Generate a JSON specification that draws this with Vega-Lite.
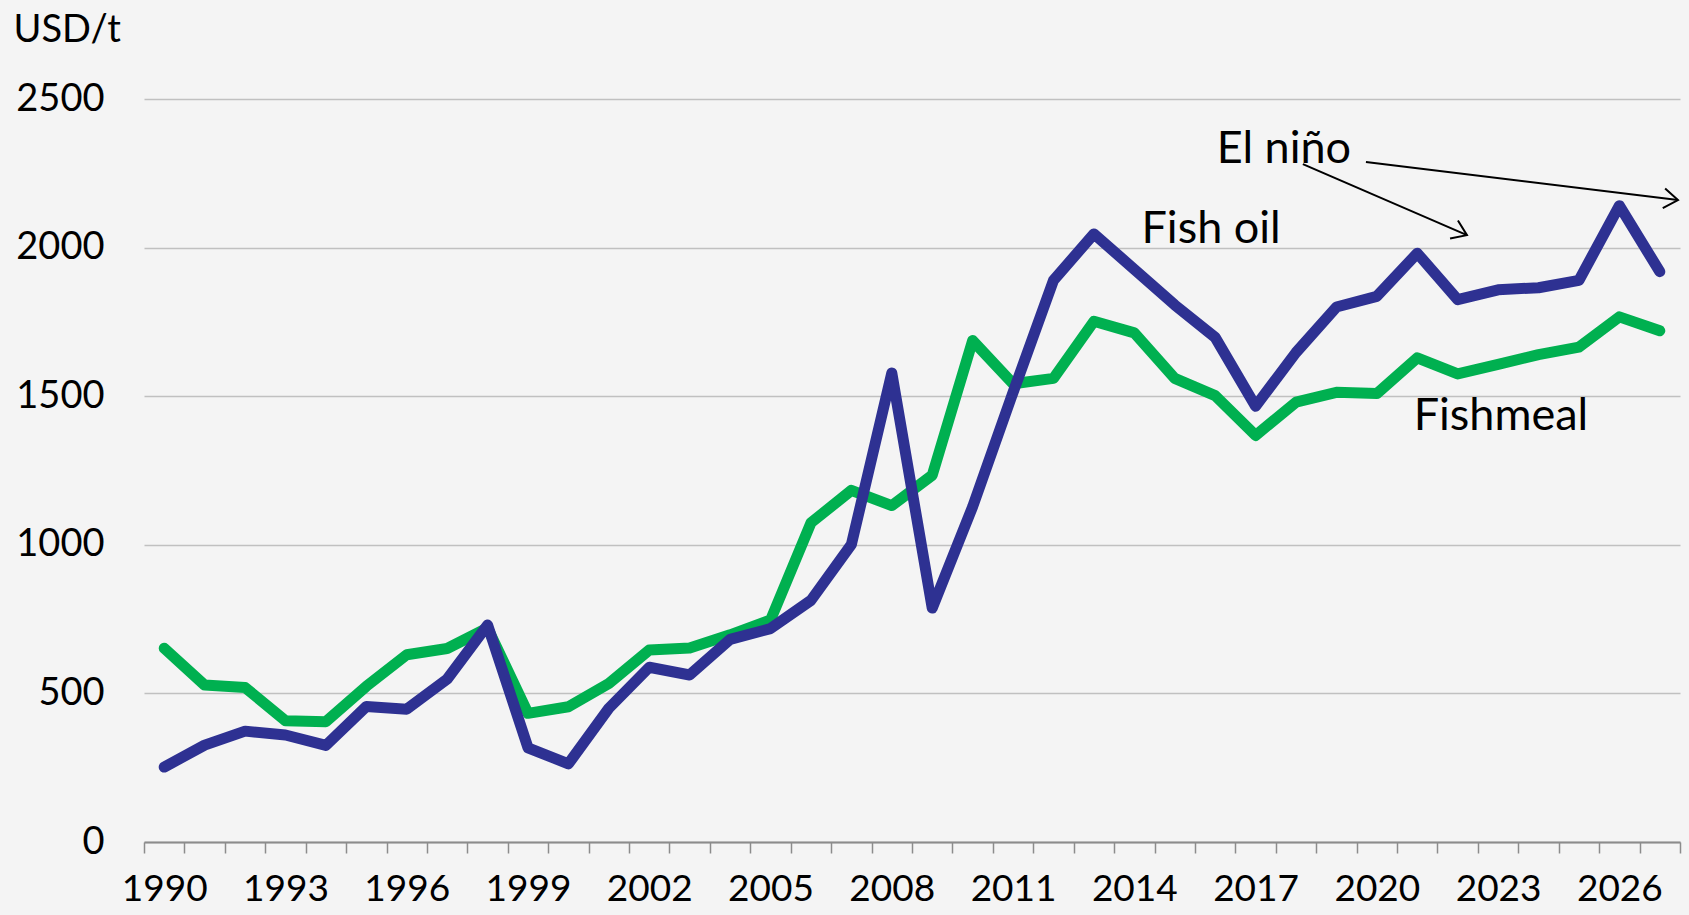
{
  "$schema": "https://vega.github.io/schema/vega-lite/v6.json",
  "autosize": "none",
  "width": 1536,
  "height": 743,
  "padding": {"left": 144, "top": 99, "right": 9, "bottom": 73},
  "background": "#f4f4f4",
  "config": {"view": {"stroke": null}, "font": "Lato"},
  "datasets": {
    "series": [
      {"year": 1990, "series": "Fishmeal", "value": 652},
      {"year": 1991, "series": "Fishmeal", "value": 528},
      {"year": 1992, "series": "Fishmeal", "value": 520},
      {"year": 1993, "series": "Fishmeal", "value": 408},
      {"year": 1994, "series": "Fishmeal", "value": 405},
      {"year": 1995, "series": "Fishmeal", "value": 524},
      {"year": 1996, "series": "Fishmeal", "value": 630},
      {"year": 1997, "series": "Fishmeal", "value": 651},
      {"year": 1998, "series": "Fishmeal", "value": 720},
      {"year": 1999, "series": "Fishmeal", "value": 433},
      {"year": 2000, "series": "Fishmeal", "value": 455},
      {"year": 2001, "series": "Fishmeal", "value": 533},
      {"year": 2002, "series": "Fishmeal", "value": 646},
      {"year": 2003, "series": "Fishmeal", "value": 653},
      {"year": 2004, "series": "Fishmeal", "value": 697},
      {"year": 2005, "series": "Fishmeal", "value": 747},
      {"year": 2006, "series": "Fishmeal", "value": 1074},
      {"year": 2007, "series": "Fishmeal", "value": 1183},
      {"year": 2008, "series": "Fishmeal", "value": 1132},
      {"year": 2009, "series": "Fishmeal", "value": 1234},
      {"year": 2010, "series": "Fishmeal", "value": 1687},
      {"year": 2011, "series": "Fishmeal", "value": 1542},
      {"year": 2012, "series": "Fishmeal", "value": 1560},
      {"year": 2013, "series": "Fishmeal", "value": 1752},
      {"year": 2014, "series": "Fishmeal", "value": 1713},
      {"year": 2015, "series": "Fishmeal", "value": 1560},
      {"year": 2016, "series": "Fishmeal", "value": 1502},
      {"year": 2017, "series": "Fishmeal", "value": 1368},
      {"year": 2018, "series": "Fishmeal", "value": 1480},
      {"year": 2019, "series": "Fishmeal", "value": 1513},
      {"year": 2020, "series": "Fishmeal", "value": 1509},
      {"year": 2021, "series": "Fishmeal", "value": 1629},
      {"year": 2022, "series": "Fishmeal", "value": 1575},
      {"year": 2023, "series": "Fishmeal", "value": 1607},
      {"year": 2024, "series": "Fishmeal", "value": 1640},
      {"year": 2025, "series": "Fishmeal", "value": 1665},
      {"year": 2026, "series": "Fishmeal", "value": 1767},
      {"year": 2027, "series": "Fishmeal", "value": 1720},
      {"year": 1990, "series": "Fish oil", "value": 252},
      {"year": 1991, "series": "Fish oil", "value": 326},
      {"year": 1992, "series": "Fish oil", "value": 373},
      {"year": 1993, "series": "Fish oil", "value": 360},
      {"year": 1994, "series": "Fish oil", "value": 325},
      {"year": 1995, "series": "Fish oil", "value": 456},
      {"year": 1996, "series": "Fish oil", "value": 447},
      {"year": 1997, "series": "Fish oil", "value": 548},
      {"year": 1998, "series": "Fish oil", "value": 730},
      {"year": 1999, "series": "Fish oil", "value": 317},
      {"year": 2000, "series": "Fish oil", "value": 263},
      {"year": 2001, "series": "Fish oil", "value": 450},
      {"year": 2002, "series": "Fish oil", "value": 588},
      {"year": 2003, "series": "Fish oil", "value": 562},
      {"year": 2004, "series": "Fish oil", "value": 682},
      {"year": 2005, "series": "Fish oil", "value": 718},
      {"year": 2006, "series": "Fish oil", "value": 813},
      {"year": 2007, "series": "Fish oil", "value": 1001},
      {"year": 2008, "series": "Fish oil", "value": 1578},
      {"year": 2009, "series": "Fish oil", "value": 787},
      {"year": 2010, "series": "Fish oil", "value": 1128},
      {"year": 2011, "series": "Fish oil", "value": 1513},
      {"year": 2012, "series": "Fish oil", "value": 1890},
      {"year": 2013, "series": "Fish oil", "value": 2046},
      {"year": 2014, "series": "Fish oil", "value": 1927},
      {"year": 2015, "series": "Fish oil", "value": 1807},
      {"year": 2016, "series": "Fish oil", "value": 1698},
      {"year": 2017, "series": "Fish oil", "value": 1466},
      {"year": 2018, "series": "Fish oil", "value": 1647},
      {"year": 2019, "series": "Fish oil", "value": 1800},
      {"year": 2020, "series": "Fish oil", "value": 1836},
      {"year": 2021, "series": "Fish oil", "value": 1981},
      {"year": 2022, "series": "Fish oil", "value": 1825},
      {"year": 2023, "series": "Fish oil", "value": 1858},
      {"year": 2024, "series": "Fish oil", "value": 1865},
      {"year": 2025, "series": "Fish oil", "value": 1890},
      {"year": 2026, "series": "Fish oil", "value": 2141},
      {"year": 2027, "series": "Fish oil", "value": 1919}
    ],
    "labels": [
      {"pos": 2017.7, "value": 2332, "label": "El niño"},
      {"pos": 2015.9, "value": 2063, "label": "Fish oil"},
      {"pos": 2023.07, "value": 1433, "label": "Fishmeal"}
    ],
    "arrows": [
      {"arrow": "a", "pos": 2018.17, "value": 2281, "pos2": 2022.23, "value2": 2042},
      {"arrow": "b", "pos": 2019.73, "value": 2288, "pos2": 2027.45, "value2": 2160}
    ]
  },
  "resolve": {"scale": {"x": "independent"}, "axis": {"x": "independent"}},
  "layer": [
    {
      "data": {"name": "series"},
      "mark": {"type": "line", "strokeWidth": 11, "strokeCap": "round", "strokeJoin": "round"},
      "encoding": {
        "x": {
          "field": "year", "type": "ordinal",
          "scale": {"type": "band", "paddingInner": 0, "paddingOuter": 0},
          "axis": {
            "title": null,
            "orient": "bottom",
            "tickBand": "extent",
            "labelAngle": 0,
            "labelExpr": "(+datum.value - 1990) % 3 === 0 ? datum.label : ''",
            "labelOverlap": false,
            "labelFont": "Lato",
            "labelFontSize": 37,
            "labelColor": "#000000",
            "labelPadding": 18,
            "labelBaseline": "top",
            "grid": false,
            "domainColor": "#8c8c8c",
            "domainWidth": 2,
            "tickColor": "#8c8c8c",
            "tickWidth": 1.5,
            "tickSize": 11
          }
        },
        "y": {
          "field": "value", "type": "quantitative",
          "scale": {"domain": [0, 2500], "nice": false},
          "axis": {
            "title": "USD/t",
            "titleAngle": 0,
            "titleFont": "Lato",
            "titleFontSize": 38,
            "titleFontWeight": "normal",
            "titleColor": "#000000",
            "titleAlign": "left",
            "titleBaseline": "alphabetic",
            "titleX": -131,
            "titleY": -58,
            "values": [0, 500, 1000, 1500, 2000, 2500],
            "format": "d",
            "labelFont": "Lato",
            "labelFontSize": 38,
            "labelColor": "#000000",
            "labelPadding": 40,
            "ticks": false,
            "domain": false,
            "grid": true,
            "gridColor": "#c0c0c0",
            "gridWidth": 1.5
          }
        },
        "color": {
          "field": "series", "type": "nominal",
          "scale": {"domain": ["Fish oil", "Fishmeal"], "range": ["#2e3192", "#00b050"]},
          "legend": null
        }
      }
    },
    {
      "layer": [
        {
          "data": {"name": "labels"},
          "mark": {"type": "text", "font": "Lato", "fontSize": 45, "color": "#000000", "align": "center", "baseline": "middle"},
          "encoding": {
            "x": {"field": "pos", "type": "quantitative", "scale": {"domain": [1989.5, 2027.5], "nice": false, "zero": false}, "axis": null},
            "y": {"field": "value", "type": "quantitative"},
            "text": {"field": "label"}
          }
        },
        {
          "data": {"name": "arrows"},
          "mark": {"type": "rule", "color": "#000000", "strokeWidth": 2},
          "encoding": {
            "x": {"field": "pos", "type": "quantitative", "scale": {"domain": [1989.5, 2027.5], "nice": false, "zero": false}, "axis": null},
            "y": {"field": "value", "type": "quantitative"},
            "x2": {"field": "pos2"},
            "y2": {"field": "value2"}
          }
        },
        {
          "data": {"name": "arrows"},
          "transform": [{"filter": "datum.arrow === 'a'"}],
          "mark": {"type": "point", "shape": "M -1 -0.7 L 0 0 L -1 0.7", "filled": false, "stroke": "#000000", "strokeWidth": 2, "size": 800, "angle": 23.4, "opacity": 1},
          "encoding": {
            "x": {"field": "pos2", "type": "quantitative", "scale": {"domain": [1989.5, 2027.5], "nice": false, "zero": false}, "axis": null},
            "y": {"field": "value2", "type": "quantitative"}
          }
        },
        {
          "data": {"name": "arrows"},
          "transform": [{"filter": "datum.arrow === 'b'"}],
          "mark": {"type": "point", "shape": "M -1 -0.7 L 0 0 L -1 0.7", "filled": false, "stroke": "#000000", "strokeWidth": 2, "size": 800, "angle": 6.9, "opacity": 1},
          "encoding": {
            "x": {"field": "pos2", "type": "quantitative", "scale": {"domain": [1989.5, 2027.5], "nice": false, "zero": false}, "axis": null},
            "y": {"field": "value2", "type": "quantitative"}
          }
        }
      ]
    }
  ]
}
